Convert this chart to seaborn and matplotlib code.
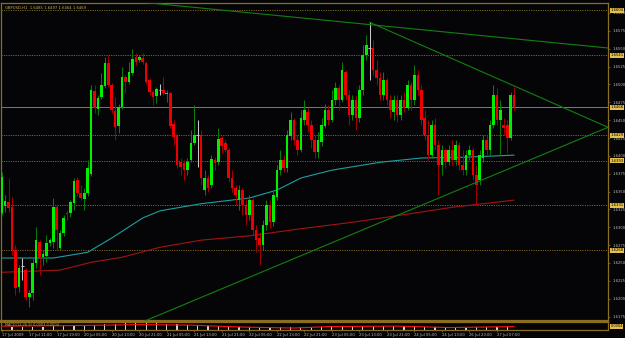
import matplotlib
matplotlib.use("Agg")
import matplotlib.pyplot as plt
import matplotlib.transforms as mtransforms
import numpy as np
import pandas as pd
import seaborn as sns

chart_title = "GBPUSD,H1  1.6485 1.6497 1.6464 1.6469"
macd_title = "MACD(12,26,9) 0.0003 0.0004"

opens = [1.6320, 1.6330, 1.6335, 1.6328, 1.6268, 1.6216, 1.6246, 1.6240, 1.6202, 1.6208,
         1.6250, 1.6279, 1.6258, 1.6260, 1.6278, 1.6279, 1.6328, 1.6271, 1.6292, 1.6320,
         1.6320, 1.6334, 1.6366, 1.6348, 1.6340, 1.6348, 1.6375, 1.6491, 1.6466, 1.6482,
         1.6498, 1.6530, 1.6499, 1.6463, 1.6442, 1.6468, 1.6510, 1.6503, 1.6516, 1.6538,
         1.6534, 1.6537, 1.6530, 1.6506, 1.6489, 1.6484, 1.6492, 1.6492, 1.6487, 1.6488,
         1.6445, 1.6429, 1.6391, 1.6390, 1.6380, 1.6394, 1.6418, 1.6429, 1.6429, 1.6352,
         1.6369, 1.6359, 1.6394, 1.6391, 1.6425, 1.6418, 1.6408, 1.6369, 1.6355, 1.6338,
         1.6352, 1.6331, 1.6317, 1.6338, 1.6296, 1.6285, 1.6275, 1.6303, 1.6331, 1.6307,
         1.6342, 1.6380, 1.6394, 1.6383, 1.6428, 1.6450, 1.6422, 1.6408, 1.6450, 1.6461,
         1.6443, 1.6422, 1.6405, 1.6419, 1.6442, 1.6464, 1.6450, 1.6478, 1.6495, 1.6478,
         1.6517, 1.6485, 1.6457, 1.6478, 1.6453, 1.6492, 1.6541, 1.6551, 1.6551, 1.6520,
         1.6509, 1.6485, 1.6506, 1.6478, 1.6461, 1.6478, 1.6457, 1.6478, 1.6467, 1.6499,
         1.6478, 1.6513, 1.6492, 1.6453, 1.6429, 1.6401, 1.6443, 1.6415, 1.6387, 1.6408,
         1.6391, 1.6408, 1.6394, 1.6415, 1.6387, 1.6380, 1.6401, 1.6408, 1.6373, 1.6366,
         1.6397, 1.6422, 1.6408, 1.6443, 1.6485, 1.6450, 1.6443, 1.6443, 1.6425, 1.6485]
highs = [1.6377, 1.6345, 1.6369, 1.6342, 1.6275, 1.6247, 1.6257, 1.6243, 1.6212, 1.6257,
         1.6300, 1.6282, 1.6268, 1.6289, 1.6285, 1.6341, 1.6331, 1.6296, 1.6317, 1.6324,
         1.6338, 1.6369, 1.6370, 1.6359, 1.6355, 1.6394, 1.6499, 1.6499, 1.6485, 1.6516,
         1.6538, 1.6541, 1.6502, 1.6482, 1.6473, 1.6524, 1.6513, 1.6531, 1.6550, 1.6544,
         1.6541, 1.6544, 1.6533, 1.6509, 1.6492, 1.6496, 1.6501, 1.6510, 1.6492, 1.6489,
         1.6450, 1.6432, 1.6397, 1.6394, 1.6397, 1.6436, 1.6471, 1.6450, 1.6436, 1.6380,
         1.6373, 1.6401, 1.6398, 1.6439, 1.6428, 1.6422, 1.6411, 1.6380, 1.6359, 1.6359,
         1.6355, 1.6341, 1.6345, 1.6341, 1.6303, 1.6293, 1.6310, 1.6338, 1.6338, 1.6352,
         1.6387, 1.6408, 1.6401, 1.6436, 1.6461, 1.6453, 1.6429, 1.6464, 1.6478, 1.6467,
         1.6450, 1.6429, 1.6433, 1.6453, 1.6473, 1.6471, 1.6492, 1.6503, 1.6499, 1.6531,
         1.6520, 1.6492, 1.6485, 1.6485, 1.6499, 1.6555, 1.6569, 1.6587, 1.6562, 1.6534,
         1.6517, 1.6517, 1.6509, 1.6485, 1.6485, 1.6485, 1.6485, 1.6489, 1.6506, 1.6503,
         1.6527, 1.6520, 1.6499, 1.6464, 1.6450, 1.6450, 1.6453, 1.6422, 1.6415, 1.6411,
         1.6415, 1.6422, 1.6422, 1.6419, 1.6408, 1.6408, 1.6415, 1.6411, 1.6387, 1.6408,
         1.6429, 1.6429, 1.6450, 1.6499, 1.6495, 1.6478, 1.6453, 1.6450, 1.6489, 1.6496]
lows = [1.6317, 1.6321, 1.6321, 1.6261, 1.6205, 1.6209, 1.6226, 1.6198, 1.6188, 1.6198,
        1.6243, 1.6233, 1.6247, 1.6251, 1.6274, 1.6271, 1.6268, 1.6268, 1.6288, 1.6310,
        1.6314, 1.6324, 1.6344, 1.6338, 1.6324, 1.6344, 1.6372, 1.6460, 1.6457, 1.6480,
        1.6495, 1.6496, 1.6460, 1.6422, 1.6432, 1.6466, 1.6488, 1.6501, 1.6513, 1.6527,
        1.6531, 1.6529, 1.6501, 1.6485, 1.6471, 1.6474, 1.6485, 1.6485, 1.6475, 1.6439,
        1.6415, 1.6383, 1.6373, 1.6366, 1.6373, 1.6391, 1.6415, 1.6384, 1.6359, 1.6345,
        1.6349, 1.6355, 1.6380, 1.6387, 1.6404, 1.6405, 1.6363, 1.6349, 1.6331, 1.6324,
        1.6317, 1.6303, 1.6310, 1.6289, 1.6265, 1.6247, 1.6268, 1.6296, 1.6299, 1.6302,
        1.6338, 1.6373, 1.6377, 1.6377, 1.6422, 1.6415, 1.6401, 1.6405, 1.6443, 1.6433,
        1.6411, 1.6397, 1.6397, 1.6414, 1.6439, 1.6443, 1.6447, 1.6471, 1.6464, 1.6475,
        1.6478, 1.6443, 1.6450, 1.6436, 1.6447, 1.6485, 1.6534, 1.6506, 1.6513, 1.6499,
        1.6478, 1.6478, 1.6471, 1.6453, 1.6450, 1.6447, 1.6450, 1.6461, 1.6464, 1.6464,
        1.6471, 1.6485, 1.6443, 1.6422, 1.6394, 1.6397, 1.6408, 1.6345, 1.6373, 1.6383,
        1.6387, 1.6387, 1.6387, 1.6380, 1.6373, 1.6373, 1.6394, 1.6366, 1.6331, 1.6359,
        1.6391, 1.6401, 1.6401, 1.6439, 1.6443, 1.6401, 1.6429, 1.6404, 1.6422, 1.6464]
closes = [1.6370, 1.6337, 1.6327, 1.6268, 1.6215, 1.6243, 1.6246, 1.6202, 1.6208, 1.6250,
          1.6282, 1.6258, 1.6263, 1.6278, 1.6282, 1.6328, 1.6296, 1.6292, 1.6313, 1.6319,
          1.6335, 1.6365, 1.6348, 1.6341, 1.6348, 1.6383, 1.6492, 1.6467, 1.6481, 1.6499,
          1.6530, 1.6499, 1.6464, 1.6440, 1.6468, 1.6510, 1.6503, 1.6517, 1.6536, 1.6531,
          1.6538, 1.6531, 1.6503, 1.6489, 1.6482, 1.6494, 1.6492, 1.6488, 1.6488, 1.6442,
          1.6426, 1.6387, 1.6384, 1.6380, 1.6391, 1.6418, 1.6429, 1.6429, 1.6369, 1.6369,
          1.6355, 1.6396, 1.6390, 1.6424, 1.6414, 1.6408, 1.6369, 1.6355, 1.6345, 1.6352,
          1.6331, 1.6317, 1.6338, 1.6296, 1.6282, 1.6275, 1.6303, 1.6331, 1.6307, 1.6345,
          1.6380, 1.6394, 1.6383, 1.6429, 1.6450, 1.6422, 1.6408, 1.6453, 1.6464, 1.6443,
          1.6422, 1.6405, 1.6422, 1.6443, 1.6464, 1.6450, 1.6478, 1.6495, 1.6478, 1.6520,
          1.6485, 1.6457, 1.6478, 1.6453, 1.6492, 1.6541, 1.6555, 1.6551, 1.6520, 1.6509,
          1.6485, 1.6506, 1.6478, 1.6464, 1.6478, 1.6457, 1.6478, 1.6467, 1.6499, 1.6478,
          1.6513, 1.6492, 1.6450, 1.6429, 1.6401, 1.6443, 1.6415, 1.6387, 1.6408, 1.6391,
          1.6408, 1.6394, 1.6415, 1.6387, 1.6380, 1.6401, 1.6408, 1.6373, 1.6359, 1.6401,
          1.6422, 1.6408, 1.6443, 1.6485, 1.6450, 1.6464, 1.6439, 1.6425, 1.6485, 1.6468]

time_labels = ["17 Jul 2009", "17 Jul 11:00", "17 Jul 19:00", "20 Jul 05:00", "20 Jul 13:00",
               "20 Jul 21:00", "21 Jul 05:00", "21 Jul 13:00", "21 Jul 21:00", "22 Jul 05:00",
               "22 Jul 13:00", "22 Jul 21:00", "23 Jul 05:00", "23 Jul 13:00", "23 Jul 21:00",
               "24 Jul 05:00", "24 Jul 13:00", "26 Jul 23:00", "27 Jul 07:00"]
price_ticks = [1.6600, 1.6575, 1.6550, 1.6525, 1.6500, 1.6475, 1.6450, 1.6425, 1.6400,
               1.6375, 1.6350, 1.6325, 1.6300, 1.6275, 1.6250, 1.6225, 1.6200, 1.6175]
level_prices = [1.6604, 1.6541, 1.6429, 1.6393, 1.6331, 1.6268]
bid_price = 1.6468

teal_ma_bars = [0, 15, 25, 32, 41, 46, 58, 72, 80, 87, 96, 110, 122, 134, 149]
teal_ma = [1.6257, 1.6257, 1.6265, 1.6285, 1.6313, 1.6323, 1.6333, 1.6341, 1.6352,
           1.6369, 1.6380, 1.6391, 1.6397, 1.6398, 1.6401]
red_ma_bars = [0, 17, 26, 35, 46, 58, 72, 87, 102, 116, 131, 149]
red_ma = [1.6237, 1.6240, 1.6251, 1.6258, 1.6272, 1.6282, 1.6288, 1.6298, 1.6307,
          1.6317, 1.6328, 1.6338]

trend_top_bars = [36.7, 176.3]
trend_top_prices = [1.6617, 1.6551]
trend_down_bars = [107.0, 176.3]
trend_down_prices = [1.6587, 1.6440]
trend_up_bars = [41.7, 176.3]
trend_up_prices = [1.6169, 1.6440]

macd_hist = [3, 3, 3, 3, 3, 4, 4, 4, 5, 5, 6, 6, 7, 7, 7, 7, 6, 6, 5, 5,
             4, 4, 3, 3, 3, 3, 3, 3, 3, 3, 3, 3, 4, 4, 4, 4, 4, 4, 4, 4,
             3, 3, 3, 2, 2, 2, 3, 3, 3, 3]
macd_signal_bars = [0, 20, 40, 55, 70, 85, 95, 115, 130, 149]
macd_signal = [4.0, 4.5, 5.5, 5.0, 3.0, 2.0, 3.5, 4.0, 2.5, 3.5]

BG = "#050507"
GOLD = "#8a6d1e"
TXT = "#bdbdbd"

sns.set_theme(style="dark", rc={"axes.facecolor": BG, "figure.facecolor": BG,
                                "axes.edgecolor": GOLD, "axes.grid": False})
plt.rcParams["font.family"] = ["DejaVu Sans"]

W, H = 625.0, 338.0
def fx(px):
    return px / W
def fy(py):
    return 1 - py / H

fig = plt.figure(figsize=(6.25, 3.38), dpi=100)
fig.patch.set_facecolor(BG)
ax = fig.add_axes([fx(1), fy(321), fx(608) - fx(1), fy(3) - fy(321)])
axm = fig.add_axes([fx(1), fy(330), fx(608) - fx(1), fy(322) - fy(330)])
for a in (ax, axm):
    a.set_facecolor(BG)
    for s in a.spines.values():
        s.set_color(GOLD)
        s.set_linewidth(0.9)
ax.spines["bottom"].set_linewidth(1.6)
axm.spines["top"].set_linewidth(1.6)

XMIN, XMAX = -0.2, 176.3
ax.set_xlim(XMIN, XMAX)
ax.set_ylim(1.61688, 1.66140)

df = pd.DataFrame({"open": opens, "high": highs, "low": lows, "close": closes})
df["bar"] = np.arange(len(df))

# horizontal levels
for p in level_prices:
    ax.axhline(p, color="#7d6420", lw=0.7, ls=(0, (1.2, 1.2)), zorder=1)
ax.axhline(bid_price, color="#7a7a7a", lw=0.7, zorder=1)

# moving averages
ma_teal = pd.DataFrame({"bar": teal_ma_bars, "price": teal_ma})
ma_red = pd.DataFrame({"bar": red_ma_bars, "price": red_ma})
sns.lineplot(data=ma_teal, x="bar", y="price", ax=ax, color="#1f9e9e", lw=0.8, zorder=2)
sns.lineplot(data=ma_red, x="bar", y="price", ax=ax, color="#a01414", lw=0.8, zorder=2)

# candles
for _, r in df.iterrows():
    o, h, l, c, x = r["open"], r["high"], r["low"], r["close"], r["bar"]
    if c > o:
        body, wick = "#00ee00", "#0b7a0b"
    elif c < o:
        body, wick = "#ee0000", "#a00000"
    else:
        body, wick = "#c8c8c8", "#c8c8c8"
    ax.vlines(x, l, h, color=wick, lw=0.75, zorder=3)
    hgt = abs(c - o)
    if hgt < 0.00008:
        ax.hlines(c, x - 0.38, x + 0.38, color=body, lw=0.75, zorder=4)
    else:
        ax.bar(x, hgt, bottom=min(o, c), width=0.76, color=body, lw=0, zorder=4)

# trendlines (rays)
def ray(bx, py):
    slope = (py[1] - py[0]) / (bx[1] - bx[0])
    xs = [bx[0], XMAX]
    ys = [py[0], py[0] + slope * (XMAX - bx[0])]
    ax.plot(xs, ys, color="#118011", lw=0.8, zorder=5)
ray(trend_top_bars, trend_top_prices)
ray(trend_down_bars, trend_down_prices)
ray(trend_up_bars, trend_up_prices)

# axes ticks
ax.set_xticks([])
ax.yaxis.tick_right()
ax.set_yticks(price_ticks)
ax.set_yticklabels([f"{p:.4f}" for p in price_ticks])
ax.tick_params(axis="y", labelsize=2.7, length=1.5, width=0.5, pad=1.5,
               color=GOLD, labelcolor=TXT, right=True, left=False)
ax.set_xlabel("")
ax.set_ylabel("")

# level tags
tr = mtransforms.blended_transform_factory(ax.transAxes, ax.transData)
for p in level_prices + [bid_price]:
    ax.text(1.004, p, f"{p:.4f}", transform=tr, fontsize=2.7, color="black",
            va="center", ha="left", clip_on=False, zorder=10,
            bbox=dict(facecolor="#e6c04a", edgecolor="none", pad=0.4))

ax.text(0.006, 0.992, chart_title, transform=ax.transAxes, fontsize=2.7,
        color="#c8b060", va="top", ha="left")

# MACD sub-window
axm.set_xlim(XMIN, XMAX)
axm.set_ylim(0, 8.2)
hist_bars = df["bar"].values[::3]
axm.bar(hist_bars, macd_hist, width=0.35, color="#d8d8d8", lw=0, zorder=2)
sig = pd.DataFrame({"bar": macd_signal_bars, "val": macd_signal})
sns.lineplot(data=sig, x="bar", y="val", ax=axm, color="#ff1010", lw=0.8, zorder=3)
axm.set_xlabel("")
axm.set_ylabel("")
axm.set_yticks([])
axm.text(0.006, 0.88, macd_title, transform=axm.transAxes, fontsize=2.5,
         color="#c8b060", va="top", ha="left")
axm.text(1.004, 0.45, "0.0004", transform=axm.transAxes, fontsize=2.5, color="black",
         va="center", ha="left", clip_on=False,
         bbox=dict(facecolor="#e6c04a", edgecolor="none", pad=0.3))

axm.set_xticks([8 * k for k in range(len(time_labels))])
axm.set_xticklabels(time_labels)
axm.tick_params(axis="x", labelsize=2.7, length=1.5, width=0.5, pad=0.8,
                color=GOLD, labelcolor=TXT, bottom=True)
for lb in axm.get_xticklabels():
    lb.set_ha("left")

fig.savefig("out.png", dpi=100, facecolor=BG)
